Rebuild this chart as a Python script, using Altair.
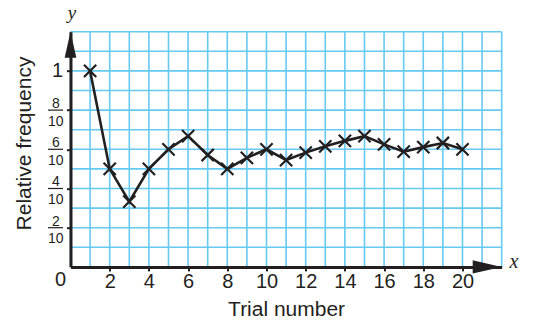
import altair as alt
import pandas as pd

# ---- data ----
trials = list(range(1, 21))
rel_freq = [1.0, 0.5, 0.333, 0.5, 0.6, 0.667, 0.571, 0.5, 0.556, 0.6,
            0.545, 0.583, 0.615, 0.643, 0.667, 0.625, 0.588, 0.611, 0.632, 0.6]

x_grid = [0, 1, 2, 3, 4, 5, 6, 7, 8, 9, 10, 11, 12, 13, 14, 15, 16, 17, 18, 19, 20, 21, 22]
y_grid = [0.0, 0.1, 0.2, 0.3, 0.4, 0.5, 0.6, 0.7, 0.8, 0.9, 1.0, 1.1, 1.2]
x_ticks = [2, 4, 6, 8, 10, 12, 14, 16, 18, 20]
y_ticks = [0.2, 0.4, 0.6, 0.8, 1.0]
frac_pos = [0.2, 0.4, 0.6, 0.8]
frac_num = ["2", "4", "6", "8"]
frac_den = ["10", "10", "10", "10"]

INK = "#231f20"
GRID = "#66c9f2"
SANS = "Liberation Sans"
SERIF = "Liberation Serif"

xs = alt.Scale(domain=[0, 22], nice=False, zero=False)
ys = alt.Scale(domain=[0, 1.2], nice=False, zero=False)

df = pd.DataFrame({"trial": trials, "rf": rel_freq})
single = pd.DataFrame({"k": [0]})

x_axis = alt.Axis(values=x_ticks, title="Trial number", grid=False,
                  domainColor=INK, domainWidth=3, tickColor=INK, tickWidth=2,
                  tickSize=4, labelFontSize=20, labelFont=SANS, labelColor=INK,
                  labelPadding=1, labelOverlap=False, titleFont=SANS,
                  titleFontSize=21, titleFontWeight="normal", titleColor=INK,
                  titleBaseline="alphabetic", titleY=48.8, zindex=1)
y_axis = alt.Axis(values=y_ticks, labels=False, title="Relative frequency",
                  grid=False, domainColor=INK, domainWidth=3, tickColor=INK,
                  tickWidth=2, tickSize=4, titleFont=SANS, titleFontSize=21,
                  titleFontWeight="normal", titleColor=INK,
                  titleBaseline="alphabetic", titleAlign="center",
                  titleX=-40.5, titleY=111.3, zindex=1)

vgrid = alt.Chart(pd.DataFrame({"gx": x_grid})).mark_rule(
    color=GRID, strokeWidth=1.6).encode(
    x=alt.X("gx:Q", scale=xs, axis=x_axis),
    y=alt.YDatum(0, scale=ys, axis=y_axis), y2=alt.datum(1.2))

hgrid = alt.Chart(pd.DataFrame({"gy": y_grid})).mark_rule(
    color=GRID, strokeWidth=1.6).encode(
    y=alt.Y("gy:Q", scale=ys), x=alt.XDatum(0, scale=xs), x2=alt.datum(22))

line = alt.Chart(df).mark_line(color=INK, strokeWidth=2.6).encode(
    x=alt.X("trial:Q", scale=xs), y=alt.Y("rf:Q", scale=ys))

pts = alt.Chart(df).mark_point(
    shape="M-1,-1L1,1M-1,1L1,-1", size=150, strokeWidth=2.2, color=INK,
    filled=False, opacity=1).encode(
    x=alt.X("trial:Q", scale=xs), y=alt.Y("rf:Q", scale=ys))

up_arrow = alt.Chart(single).mark_point(
    shape="M0,0L0.45,2L-0.45,2Z", size=676, filled=True, color=INK,
    opacity=1, strokeWidth=0).encode(x=alt.datum(0), y=alt.datum(1.2))

right_arrow = alt.Chart(single).mark_point(
    shape="M0,0L-2,-0.45L-2,0.45Z", size=841, filled=True, color=INK,
    opacity=1, strokeWidth=0).encode(x=alt.datum(22), y=alt.datum(0))

one_lbl = alt.Chart(single).mark_text(
    text="1", font=SANS, fontSize=20, color=INK, align="center",
    baseline="middle", dx=-13).encode(x=alt.datum(0), y=alt.datum(1.0))

zero_lbl = alt.Chart(single).mark_text(
    text="0", font=SANS, fontSize=20, color=INK, align="center",
    baseline="middle", dx=-10, dy=13).encode(x=alt.datum(0), y=alt.datum(0))

fr = pd.DataFrame({"p": frac_pos, "n": frac_num, "d": frac_den})
num = alt.Chart(fr).mark_text(
    font=SANS, fontSize=14, color=INK, align="center", baseline="alphabetic",
    dx=-14.7, dy=-2).encode(x=alt.datum(0), y=alt.Y("p:Q", scale=ys), text="n:N")
den = alt.Chart(fr).mark_text(
    font=SANS, fontSize=14, color=INK, align="center", baseline="alphabetic",
    dx=-14.7, dy=15.5).encode(x=alt.datum(0), y=alt.Y("p:Q", scale=ys), text="d:N")
bar = alt.Chart(fr).mark_point(
    shape="M-4.5,0L-1.5,0", size=100, filled=False, strokeWidth=1.2,
    color=INK, opacity=1).encode(x=alt.datum(0), y=alt.Y("p:Q", scale=ys))

ylab = alt.Chart(single).mark_text(
    text="y", font=SERIF, fontStyle="italic", fontSize=19, color=INK,
    align="center", baseline="middle", dx=1.5, dy=-18.5).encode(
    x=alt.datum(0), y=alt.datum(1.2))
xlab = alt.Chart(single).mark_text(
    text="x", font=SERIF, fontStyle="italic", fontSize=20, color=INK,
    align="center", baseline="alphabetic", dx=12.3, dy=1.3).encode(
    x=alt.datum(22), y=alt.datum(0))

chart = alt.layer(
    vgrid, hgrid, line, pts, up_arrow, right_arrow, one_lbl, zero_lbl,
    num, den, bar, ylab, xlab
).properties(
    width=431.2, height=235.2,
    padding={"left": 62.5, "top": 23.7, "right": 26, "bottom": 55.3},
    autosize=alt.AutoSizeParams(type="none"),
    background="white",
).configure_view(stroke=None)

chart.save("out.html", embed_options={"renderer": "svg", "actions": False})
